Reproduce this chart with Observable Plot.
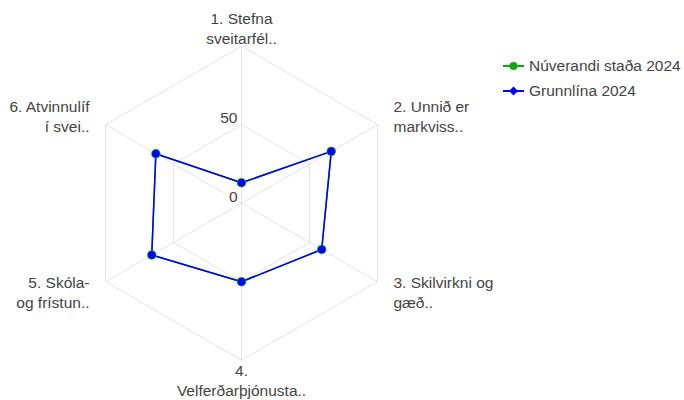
<!DOCTYPE html>
<html><head><meta charset="utf-8">
<script src="https://cdn.jsdelivr.net/npm/d3@7"></script>
<script src="https://cdn.jsdelivr.net/npm/@observablehq/plot@0.6"></script>
<style>
body{margin:0;background:#fff;font-family:"Liberation Sans",Arial,sans-serif;}
#wrap{position:relative;width:684px;height:400px;}
#wrap svg{display:block;}
#legend{position:absolute;left:503px;top:53.5px;font-size:15.5px;color:#444;}
.item{display:flex;align-items:center;height:25px;white-space:nowrap;}
.item svg{margin-right:5px;}
</style></head><body><div id="wrap"></div>
<script>
const categories = ["1. Stefna\nsveitarfél..", "2. Unnið er\nmarkviss..", "3. Skilvirkni og\ngæð..", "4.\nVelferðarþjónusta..", "5. Skóla-\nog frístun..", "6. Atvinnulíf\ní svei.."];
const seriesNames = ["Núverandi staða 2024", "Grunnlína 2024"];
const seriesColors = ["#12a612", "#0000ff"];
const nuverandi = [13, 66, 59, 50, 66, 63];
const grunnlina = [13, 66, 59, 50, 66, 63];
const radialTicks = [0, 50];
const gridRings = [50, 100];
const radialMax = 100;

const W = 684, H = 400;
const cx = 241, cy = 202.7, R = 157;
const k = R / radialMax;
const n = categories.length;
const ang = i => i * 2 * Math.PI / n;
const pt = (r, i) => ({x: r * Math.sin(ang(i)), y: r * Math.cos(ang(i))});

const rings = gridRings.flatMap(t => d3.range(n + 1).map(i => ({...pt(t, i % n), ring: t})));
const spokes = categories.map((c, i) => ({x1: 0, y1: 0, x2: pt(radialMax, i).x, y2: pt(radialMax, i).y}));
const series = [nuverandi, grunnlina].map((vals, s) =>
  vals.map((v, i) => ({...pt(v, i), v, cat: categories[i], s: seriesNames[s]})));
const closed = arr => [...arr, arr[0]];

const labels = categories.map((c, i) => {
  const sn = Math.sin(ang(i)), cs = Math.cos(ang(i));
  const side = Math.abs(sn) < 0.1 ? 0 : Math.sign(sn);
  const p = pt(radialMax, i);
  return {label: c, side, x: p.x + side * 16 / k, y: p.y + cs * 19 / k};
});

const font = {fontSize: 15.5, fill: "#444", lineHeight: 1.29, fontFamily: "Liberation Sans, Arial, sans-serif"};

const chart = Plot.plot({
  width: W, height: H,
  margin: 0,
  x: {domain: [-cx / k, (W - cx) / k], range: [0, W], axis: null},
  y: {domain: [-(H - cy) / k, cy / k], range: [H, 0], axis: null},
  marks: [
    Plot.line(rings, {x: "x", y: "y", z: "ring", stroke: "#e4e4e4", strokeWidth: 1}),
    Plot.link(spokes, {x1: "x1", y1: "y1", x2: "x2", y2: "y2", stroke: "#e4e4e4", strokeWidth: 1}),
    Plot.text(radialTicks, {x: 0, y: d => d, text: d => String(d), textAnchor: "end", dx: -4, dy: -8, ...font}),
    Plot.text(labels.filter(d => d.side === 0), {x: "x", y: "y", text: "label", textAnchor: "middle", ...font}),
    Plot.text(labels.filter(d => d.side > 0), {x: "x", y: "y", text: "label", textAnchor: "start", ...font}),
    Plot.text(labels.filter(d => d.side < 0), {x: "x", y: "y", text: "label", textAnchor: "end", ...font}),
    Plot.line(closed(series[0]), {x: "x", y: "y", stroke: seriesColors[0], strokeWidth: 1.5}),
    Plot.line(closed(series[1]), {x: "x", y: "y", stroke: seriesColors[1], strokeWidth: 1.5}),
    Plot.dot(series[0], {x: "x", y: "y", r: 4.7, fill: seriesColors[0], stroke: "none"}),
    Plot.dot(series[1], {x: "x", y: "y", r: 3.8, fill: seriesColors[1], stroke: "none"})
  ]
});
const wrap = document.getElementById("wrap");
wrap.appendChild(chart);

const legend = document.createElement("div");
legend.id = "legend";
const symbols = [
  c => `<circle cx="10.5" cy="6" r="4" fill="${c}"/>`,
  c => `<path d="M10.5 1.5 L15 6 L10.5 10.5 L6 6 Z" fill="${c}"/>`
];
legend.innerHTML = seriesNames.map((s, i) =>
  `<div class="item"><svg width="21" height="12"><line x1="0" x2="21" y1="6" y2="6" stroke="${seriesColors[i]}" stroke-width="2"/>${symbols[i](seriesColors[i])}</svg><span>${s}</span></div>`
).join("");
wrap.appendChild(legend);
</script></body></html>
